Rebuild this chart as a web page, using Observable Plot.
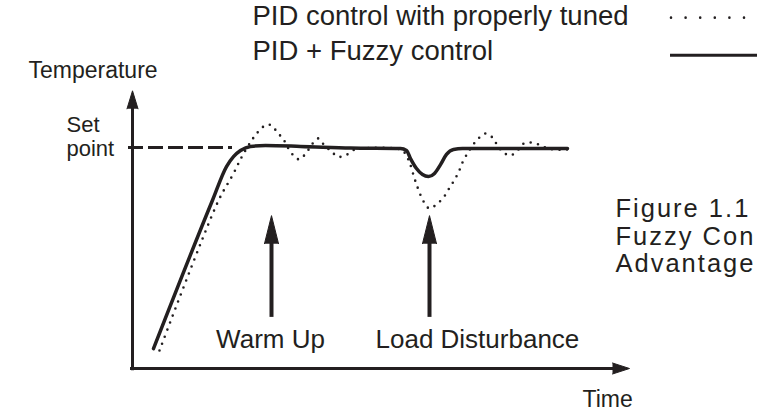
<!DOCTYPE html>
<html>
<head>
<meta charset="utf-8">
<script src="https://cdn.jsdelivr.net/npm/d3@7"></script>
<script src="https://cdn.jsdelivr.net/npm/@observablehq/plot@0.6"></script>
<style>
  html, body { margin: 0; padding: 0; background: #fff; overflow: hidden; }
  #chart svg { overflow: hidden; }
</style>
</head>
<body>
<div id="chart"></div>
<script>
// ---- Data (time and temperature in arbitrary 0-100 units) ----
const setPoint = 80;

// PID + Fuzzy control (solid)
const fuzzyTime = [4.2, 16, 18.8, 20.2, 21.6, 23.6, 26.6, 33.6, 43.6, 53.6, 54.8, 55.6, 56.8, 58, 59.2, 60.4, 61.6, 62.8, 64.2, 66, 87];
const fuzzyTemp = [7.2, 60.9, 73.1, 76.7, 78.9, 80.4, 80.7, 80.4, 79.8, 79.6, 78.9, 76, 72.4, 70.2, 69.5, 70.6, 73.8, 77.5, 79.3, 79.6, 79.6];

// PID control with properly tuned (dotted)
const pidTime = [5.4, 17.2, 20, 21.8, 23.8, 25, 26.2, 27, 27.8, 29, 30.2, 31.2, 32.4, 33.4, 34.8, 36, 37.2, 38.4, 39.8, 41, 42.6, 44, 45.6, 53.6, 54.4, 55.4, 56.6, 58.2, 59.4, 60.8, 62.2, 63.2, 64.2, 65.2, 66, 67, 68, 69.2, 70.6, 72, 73, 74.2, 75.6, 77, 78.2, 79.6, 81.2, 82.6, 84.2, 87];
const pidTemp = [6.5, 60.8, 69.9, 76.4, 82.5, 85.4, 87.6, 88.3, 88, 85.4, 82.9, 79.6, 76.7, 75.7, 78.2, 81.4, 83.3, 80.7, 78.6, 76.7, 77.1, 78.9, 79.6, 79.3, 78.2, 74.6, 67.7, 60.5, 57.9, 59.4, 61.9, 64.8, 67.7, 71, 74.6, 77.9, 80.7, 83.3, 85.1, 83.6, 80.7, 78.2, 77.1, 78.9, 81.4, 81.8, 81.1, 80, 79.3, 79.3];

// Event annotations
const eventTime = [27.8, 59.4];
const eventLabel = ["Warm Up", "Load Disturbance"];
const eventLabelTime = [27.6, 48.6];
const eventLabelAnchor = ["middle", "start"];

// Legend and labels
const legendLabels = ["PID control with properly tuned", "PID + Fuzzy control"];
const axisLabels = {x: "Time", y: "Temperature", set: "Set\npoint"};
const captionLines = ["Figure 1.1", "Fuzzy Con", "Advantage"];

// ---- Build tables ----
const fuzzy = fuzzyTime.map((t, i) => ({t, v: fuzzyTemp[i]}));
const pid = pidTime.map((t, i) => ({t, v: pidTemp[i]}));
const events = eventTime.map((t, i) => ({t, label: eventLabel[i], lt: eventLabelTime[i], anchor: eventLabelAnchor[i]}));

const ink = "#231f20";
const font = "Liberation Sans, Arial, Helvetica, sans-serif";

const chart = Plot.plot({
  width: 757,
  height: 412,
  margin: 0,
  style: {fontFamily: font, color: ink, background: "#fff"},
  x: {domain: [0, 100], range: [132, 632], axis: null},
  y: {domain: [0, 100], range: [368, 91.75], axis: null},
  marks: [
    // Axes with arrowheads
    Plot.ruleX([0], {y1: -0.8, y2: 94.5, stroke: ink, strokeWidth: 3}),
    Plot.vector([{t: 0, v: 94}], {x: "t", y: "v", shape: "spike", length: 18, r: 5.5, rotate: 0, anchor: "start", fill: ink, stroke: ink, strokeWidth: 1, fillOpacity: 1}),
    Plot.ruleY([0], {x1: -0.4, x2: 96.2, stroke: ink, strokeWidth: 3}),
    Plot.vector([{t: 96, v: 0}], {x: "t", y: "v", shape: "spike", length: 17, r: 5.5, rotate: 90, anchor: "start", fill: ink, stroke: ink, strokeWidth: 1, fillOpacity: 1}),

    // Set point dashed line
    Plot.ruleY([setPoint], {x1: -0.8, x2: 20, stroke: ink, strokeWidth: 3, strokeDasharray: "15,5"}),

    // Curves
    Plot.line(pid, {x: "t", y: "v", curve: "catmull-rom", stroke: ink, strokeWidth: 2.6, strokeDasharray: "0,7.5", strokeLinecap: "round"}),
    Plot.line(fuzzy, {x: "t", y: "v", curve: "monotone-x", stroke: ink, strokeWidth: 3.5}),

    // Event arrows
    Plot.ruleX(events, {x: "t", y1: 18.5, y2: 45.6, stroke: ink, strokeWidth: 4}),
    Plot.vector(events, {x: "t", y: 45.2, shape: "spike", length: 28, r: 7, rotate: 0, anchor: "start", fill: ink, stroke: ink, strokeWidth: 1, fillOpacity: 1}),
    Plot.text(events.filter(d => d.anchor === "middle"), {x: "lt", y: 7.6, text: "label", textAnchor: "middle", lineAnchor: "bottom", fontSize: 26, fill: ink}),
    Plot.text(events.filter(d => d.anchor === "start"), {x: "lt", y: 7.6, text: "label", textAnchor: "start", lineAnchor: "bottom", fontSize: 26, fill: ink}),

    // Axis labels
    Plot.text([axisLabels.y], {x: -20.8, y: 105.3, text: d => d, textAnchor: "start", lineAnchor: "bottom", fontSize: 23, fill: ink}),
    Plot.text([axisLabels.x], {x: 90, y: -14.1, text: d => d, textAnchor: "start", lineAnchor: "bottom", fontSize: 23, fill: ink}),
    Plot.text([axisLabels.set], {x: -13.2, y: 77.1, text: d => d, textAnchor: "start", lineAnchor: "bottom", lineHeight: 1.05, fontSize: 22, fill: ink}),

    // Legend
    Plot.text([legendLabels[0]], {x: 24, y: 124.2, text: d => d, textAnchor: "start", lineAnchor: "bottom", fontSize: 27.5, fill: ink}),
    Plot.text([legendLabels[1]], {x: 24, y: 111.5, text: d => d, textAnchor: "start", lineAnchor: "bottom", fontSize: 27.5, fill: ink}),
    Plot.ruleY([127], {x1: 107.8, x2: 122.6, stroke: ink, strokeWidth: 2.6, strokeDasharray: "0,14.6", strokeLinecap: "round"}),
    Plot.ruleY([113.4], {x1: 107.6, x2: 125.5, stroke: ink, strokeWidth: 3}),

    // Figure caption
    Plot.text([captionLines.join("\n")], {x: 96.6, y: 35.1, text: d => d, textAnchor: "start", lineAnchor: "bottom", lineHeight: 1.06, fontSize: 25.5, fill: ink})
  ]
});

d3.select(chart).selectAll("text")
  .filter(function() { return this.textContent.startsWith(captionLines[0]); })
  .style("letter-spacing", "2px");
document.getElementById("chart").appendChild(chart);
</script>
</body>
</html>
